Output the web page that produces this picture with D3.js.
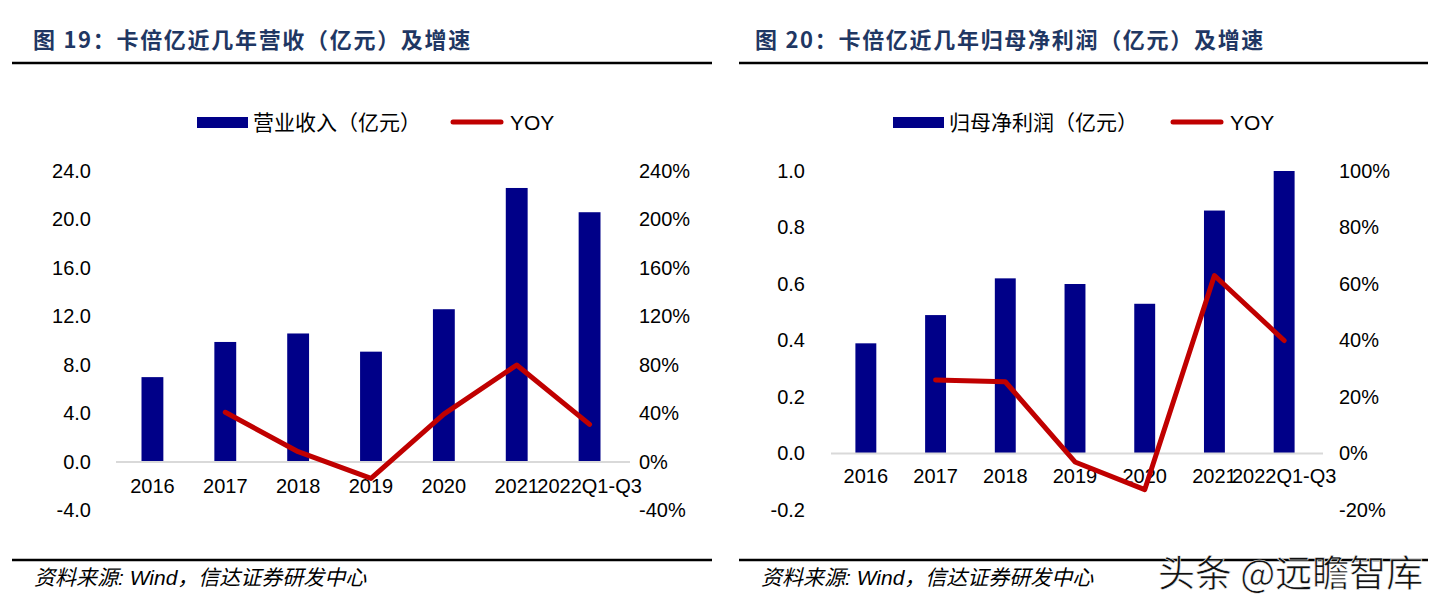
<!DOCTYPE html>
<html><head><meta charset="utf-8">
<script src="https://cdn.jsdelivr.net/npm/d3@7"></script>
<style>
html,body{margin:0;padding:0;background:#fff;}
svg{display:block;}
</style></head>
<body>
<svg id="c" width="1445" height="604"></svg>
<script>
// ---- data ----
const categories = ["2016","2017","2018","2019","2020","2021","2022Q1-Q3"];
const revenue = [7.0, 9.9, 10.6, 9.1, 12.6, 22.6, 20.6];
const revenueYoY = [null, 41, 8.5, -13.5, 39.5, 80, 31];
const profit = [0.39, 0.49, 0.62, 0.60, 0.53, 0.86, 1.00];
const profitYoY = [null, 26, 25.4, -3, -12.8, 63, 40];
const revTicks = [-4, 0, 4, 8, 12, 16, 20, 24];
const revPctTicks = [-40, 0, 40, 80, 120, 160, 200, 240];
const profTicks = [-0.2, 0, 0.2, 0.4, 0.6, 0.8, 1.0];
const profPctTicks = [-20, 0, 20, 40, 60, 80, 100];

const NUM = "'Liberation Sans', Arial, sans-serif";
const CJK = "'Liberation Sans', 'Noto Sans CJK SC', sans-serif";
const BAR = "#000088";
const LINE = "#C00000";
const svg = d3.select("#c");
const hy = s => s.replace("\u2212", "-");

function panel(o) {
  const g = svg.append("g");
  // title
  g.append("text").attr("x", o.titleX).attr("y", 48)
    .attr("font-family", "'Noto Sans CJK SC', sans-serif").attr("font-weight", "bold")
    .attr("font-size", 22).attr("fill", "#1f3763").attr("letter-spacing", 1.7)
    .text(o.title);
  g.append("line").attr("x1", o.ruleX1).attr("x2", o.ruleX2).attr("y1", 63).attr("y2", 63)
    .attr("stroke", "#000").attr("stroke-width", 2.5);
  g.append("line").attr("x1", o.ruleX1).attr("x2", o.ruleX2).attr("y1", 560).attr("y2", 560)
    .attr("stroke", "#000").attr("stroke-width", 2.5);
  g.append("text").attr("x", o.ruleX1 + 22).attr("y", 585)
    .attr("font-family", CJK).attr("font-style", "italic")
    .attr("font-size", 21).attr("fill", "#000")
    .text("资料来源: Wind，信达证券研发中心");

  const x = d3.scaleBand().domain(categories).range(o.xRange)
    .paddingInner(0.7).paddingOuter(0.35);
  const yL = d3.scaleLinear().domain(o.yLDom).range([o.yBottom, 171]);
  const yR = d3.scaleLinear().domain(o.yRDom).range([o.yBottom, 171]);

  // left axis
  const axL = d3.axisLeft(yL).tickValues(o.lTicks).tickSize(0).tickPadding(0)
    .tickFormat(d => hy(d3.format(".1f")(d)));
  const gL = g.append("g").attr("transform", `translate(${o.lAxisX},0)`).call(axL);
  gL.select(".domain").remove();
  gL.selectAll("text").attr("font-family", NUM).attr("font-size", 20).attr("fill", "#000");

  const axR = d3.axisRight(yR).tickValues(o.rTicks).tickSize(0).tickPadding(0)
    .tickFormat(d => hy(d3.format("d")(d)) + "%");
  const gR = g.append("g").attr("transform", `translate(${o.rAxisX},0)`).call(axR);
  gR.select(".domain").remove();
  gR.selectAll("text").attr("font-family", NUM).attr("font-size", 20).attr("fill", "#000");

  // bars
  g.selectAll("rect.bar").data(o.bars).enter().append("rect").attr("class", "bar")
    .attr("x", (d, i) => x(categories[i])).attr("width", x.bandwidth())
    .attr("y", d => yL(d)).attr("height", d => yL(0) - yL(d)).attr("fill", BAR);

  // baseline
  g.append("line").attr("x1", o.xRange[0]).attr("x2", o.xRange[1] + 4)
    .attr("y1", yL(0)).attr("y2", yL(0)).attr("stroke", "#d9d9d9").attr("stroke-width", 2);

  // x labels
  const axB = d3.axisBottom(x).tickSize(0).tickPadding(0);
  const gB = g.append("g").attr("transform", `translate(0,${yL(0) + o.xLabelDy})`).call(axB);
  gB.select(".domain").remove();
  gB.selectAll("text").attr("font-family", NUM).attr("font-size", 20).attr("fill", "#000");

  // line
  const pts = o.yoy.map((v, i) => ({c: categories[i], v})).filter(d => d.v !== null);
  const line = d3.line().x(d => x(d.c) + x.bandwidth() / 2).y(d => yR(d.v));
  g.append("path").datum(pts).attr("d", line).attr("fill", "none")
    .attr("stroke", LINE).attr("stroke-width", 5).attr("stroke-linejoin", "round").attr("stroke-linecap", "round");

  // legend
  const lg = g.append("g");
  lg.append("rect").attr("x", o.legX).attr("y", 117).attr("width", 51).attr("height", 11).attr("fill", BAR);
  lg.append("text").attr("x", o.legX + 56).attr("y", 130).attr("font-family", CJK)
    .attr("font-size", 21).attr("fill", "#000").text(o.legName);
  lg.append("line").attr("x1", o.legLineX).attr("x2", o.legLineX + 48).attr("y1", 122).attr("y2", 122)
    .attr("stroke", LINE).attr("stroke-width", 5).attr("stroke-linecap", "round");
  lg.append("text").attr("x", o.legLineX + 57).attr("y", 130).attr("font-family", NUM)
    .attr("font-size", 21).attr("fill", "#000").text("YOY");
}

panel({
  title: "图 19：卡倍亿近几年营收（亿元）及增速", titleX: 33,
  ruleX1: 12, ruleX2: 712,
  xRange: [116, 626], yLDom: [-4, 24], yRDom: [-40, 240], yBottom: 510.5,
  lTicks: revTicks, rTicks: revPctTicks, lAxisX: 91, rAxisX: 639,
  bars: revenue, yoy: revenueYoY, xLabelDy: 17,
  legX: 197, legName: "营业收入（亿元）", legLineX: 453
});
panel({
  title: "图 20：卡倍亿近几年归母净利润（亿元）及增速", titleX: 755,
  ruleX1: 739, ruleX2: 1428,
  xRange: [831, 1319], yLDom: [-0.2, 1.0], yRDom: [-20, 100], yBottom: 510,
  lTicks: profTicks, rTicks: profPctTicks, lAxisX: 805, rAxisX: 1339,
  bars: profit, yoy: profitYoY, xLabelDy: 15,
  legX: 893, legName: "归母净利润（亿元）", legLineX: 1173
});

// watermark
svg.append("text").attr("x", 1158).attr("y", 587)
  .attr("font-family", "'Noto Sans CJK SC', sans-serif").attr("font-size", 37)
  .attr("fill", "#111").attr("stroke", "#fff").attr("stroke-width", 0.6)
  .text("头条 @远瞻智库");
</script>
</body></html>
